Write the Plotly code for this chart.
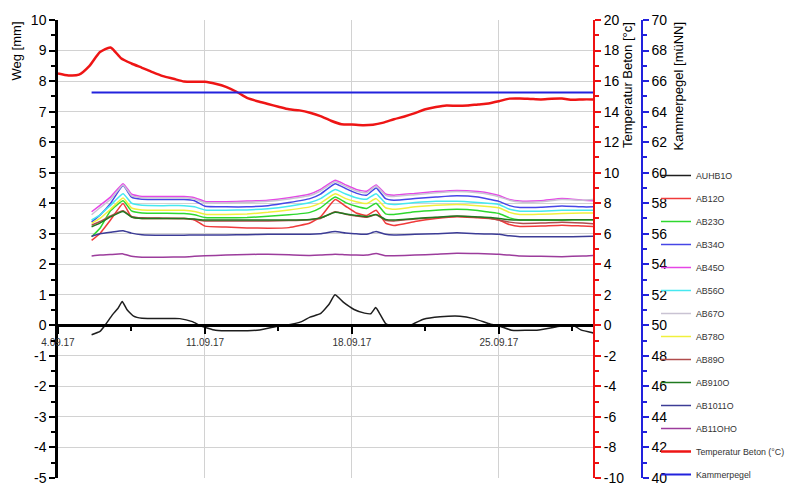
import pandas as pd
import plotly.graph_objects as go

BASE = pd.Timestamp("2017-09-04")

# ---------------- data (day offsets from 04.09.17 00:00) ----------------
sensor_days = [1.6, 2.0, 2.5, 3.1, 3.5, 4.0, 5.0, 6.0, 6.5, 7.0, 8.0, 9.0, 10.0, 11.0, 12.0,
               12.5, 13.2, 13.7, 14.2, 14.7, 15.15, 15.6, 16.0, 17.0, 18.0, 19.0, 20.0, 20.6,
               21.0, 21.5, 22.0, 23.0, 24.0, 25.0, 25.5]

ab12o = [2.78, 3.01, 3.45, 3.99, 3.55, 3.5, 3.5, 3.5, 3.45, 3.25, 3.22, 3.19, 3.18, 3.2, 3.35,
         3.55, 4.12, 3.9, 3.68, 3.6, 3.77, 3.35, 3.27, 3.4, 3.5, 3.56, 3.52, 3.5,
         3.45, 3.3, 3.24, 3.25, 3.28, 3.25, 3.24]
ab23o = [2.9, 3.18, 3.75, 4.08, 3.75, 3.68, 3.67, 3.66, 3.62, 3.53, 3.52, 3.53, 3.57, 3.62, 3.7,
         3.85, 4.2, 4.02, 3.9, 3.83, 4.0, 3.65, 3.63, 3.72, 3.77, 3.8, 3.76, 3.7,
         3.66, 3.52, 3.45, 3.45, 3.45, 3.46, 3.46]
ab34o = [3.39, 3.61, 3.99, 4.58, 4.2, 4.13, 4.12, 4.12, 4.08, 3.9, 3.88, 3.88, 3.92, 4.02, 4.15,
         4.3, 4.64, 4.48, 4.33, 4.26, 4.5, 4.15, 4.1, 4.15, 4.2, 4.24, 4.2, 4.12,
         4.06, 3.92, 3.86, 3.87, 3.91, 3.88, 3.88]
ab45o = [3.72, 3.93, 4.2, 4.64, 4.3, 4.22, 4.22, 4.22, 4.18, 4.06, 4.05, 4.07, 4.1, 4.18, 4.3,
         4.45, 4.75, 4.6, 4.45, 4.39, 4.6, 4.3, 4.26, 4.32, 4.38, 4.42, 4.38, 4.32,
         4.25, 4.12, 4.07, 4.08, 4.15, 4.1, 4.08]
ab56o = [3.45, 3.62, 3.93, 4.31, 4.0, 3.93, 3.92, 3.92, 3.88, 3.78, 3.77, 3.78, 3.82, 3.9, 4.02,
         4.15, 4.45, 4.3, 4.18, 4.13, 4.31, 4.0, 3.96, 4.02, 4.06, 4.06, 4.02, 3.99,
         3.96, 3.8, 3.74, 3.74, 3.77, 3.77, 3.77]
ab67o = [3.62, 3.85, 4.12, 4.6, 4.25, 4.18, 4.18, 4.18, 4.14, 4.02, 4.01, 4.03, 4.06, 4.14, 4.25,
         4.4, 4.7, 4.55, 4.4, 4.34, 4.56, 4.26, 4.22, 4.28, 4.34, 4.38, 4.34, 4.28,
         4.21, 4.1, 4.04, 4.05, 4.12, 4.1, 4.12]
ab78o = [3.34, 3.5, 3.8, 4.17, 3.85, 3.78, 3.77, 3.77, 3.73, 3.64, 3.63, 3.65, 3.7, 3.78, 3.88,
         4.0, 4.31, 4.15, 4.05, 3.99, 4.15, 3.85, 3.8, 3.88, 3.93, 3.96, 3.92, 3.88,
         3.85, 3.7, 3.63, 3.64, 3.66, 3.68, 3.68]
ab89o = [3.28, 3.4, 3.58, 3.75, 3.57, 3.52, 3.51, 3.5, 3.47, 3.42, 3.42, 3.42, 3.42, 3.43, 3.46,
         3.5, 3.72, 3.64, 3.58, 3.54, 3.62, 3.44, 3.42, 3.48, 3.53, 3.57, 3.54, 3.5,
         3.45, 3.38, 3.34, 3.35, 3.38, 3.35, 3.33]
ab910o = [3.23, 3.35, 3.55, 3.73, 3.55, 3.5, 3.5, 3.5, 3.48, 3.45, 3.45, 3.45, 3.45, 3.45, 3.47,
          3.52, 3.7, 3.65, 3.6, 3.56, 3.63, 3.47, 3.45, 3.5, 3.54, 3.58, 3.55, 3.53,
          3.5, 3.46, 3.45, 3.45, 3.45, 3.46, 3.46]
ab1011o = [2.92, 3.0, 3.05, 3.1, 3.02, 2.97, 2.95, 2.95, 2.96, 2.96, 2.96, 2.97, 2.98, 2.98, 2.98,
           3.0, 3.07, 3.02, 3.0, 2.98, 3.07, 2.98, 2.96, 2.98, 3.0, 3.03, 3.0, 2.99,
           2.98, 2.93, 2.9, 2.9, 2.9, 2.91, 2.92]
ab11oho = [2.27, 2.3, 2.32, 2.34, 2.26, 2.23, 2.23, 2.24, 2.26, 2.28, 2.3, 2.32, 2.33, 2.31, 2.29,
           2.3, 2.33, 2.31, 2.3, 2.3, 2.35, 2.28, 2.28, 2.3, 2.33, 2.36, 2.35, 2.34,
           2.33, 2.3, 2.27, 2.26, 2.25, 2.27, 2.29]

auhb_days = [1.6, 2.0, 2.24, 2.6, 2.85, 3.06, 3.3, 3.6, 4.0, 5.0, 5.8, 6.4, 6.8, 7.5, 8.5, 9.6,
             10.5, 11.0, 11.6, 12.0, 12.5, 12.9, 13.19, 13.6, 14.1, 14.6, 14.9, 15.13, 15.35,
             15.6, 15.85, 16.76, 17.4, 18.2, 19.14, 19.8, 20.6, 21.05, 21.6, 22.9, 23.9, 24.5,
             24.9, 25.5]
auhb1o = [-0.31, -0.2, 0.0, 0.35, 0.55, 0.78, 0.5, 0.3, 0.23, 0.22, 0.22, 0.12, -0.02, -0.16,
          -0.18, -0.15, -0.02, 0.02, 0.12, 0.27, 0.38, 0.68, 1.0, 0.75, 0.52, 0.4, 0.38, 0.58,
          0.35, 0.06, 0.0, 0.0, 0.2, 0.28, 0.3, 0.22, 0.04, -0.03, -0.16, -0.15, -0.03, 0.02,
          -0.15, -0.25]

temp_days = [0, 0.5, 1.0, 1.5, 2.0, 2.5, 3.0, 3.5, 4.0, 4.5, 5.0, 5.5, 6.0, 6.5, 7.0, 7.5, 8.0,
             8.5, 9.0, 9.5, 10.0, 10.5, 11.0, 11.5, 12.0, 12.5, 13.0, 13.5, 14.0, 14.5, 15.0,
             15.5, 16.0, 16.5, 17.0, 17.5, 18.0, 18.5, 19.0, 19.5, 20.0, 20.5, 21.0, 21.5,
             22.0, 22.5, 23.0, 23.5, 24.0, 24.5, 25.0, 25.5]
temp_beton = [16.5, 16.37, 16.42, 17.0, 17.9, 18.2, 17.5, 17.15, 16.87, 16.58, 16.32, 16.15,
              15.97, 15.95, 15.95, 15.82, 15.62, 15.3, 14.9, 14.68, 14.5, 14.32, 14.15, 14.08,
              13.93, 13.7, 13.4, 13.17, 13.15, 13.11, 13.14, 13.28, 13.5, 13.68, 13.9, 14.15,
              14.3, 14.4, 14.38, 14.4, 14.47, 14.53, 14.68, 14.85, 14.86, 14.83, 14.8, 14.84,
              14.85, 14.78, 14.8, 14.8]

pegel_days = [1.6, 7.0, 13.0, 19.0, 25.5]
kammerpegel = [65.25, 65.25, 65.25, 65.25, 65.25]

# tick values / labels (hyphen minus as in the original)
weg_ticks = list(range(-5, 11))
weg_labels = [str(v) for v in weg_ticks]
temp_ticks = list(range(-10, 21, 2))
temp_labels = [str(v) for v in temp_ticks]
pegel_ticks = list(range(40, 71, 2))
pegel_labels = [str(v) for v in pegel_ticks]

FONT = "Liberation Sans, Arial, sans-serif"


def to_dt(days):
    return [BASE + pd.Timedelta(days=d) for d in days]


sensors = [
    ("AUHB1O", auhb_days, auhb1o, "#1e1e1e"),
    ("AB12O", sensor_days, ab12o, "#f03a3a"),
    ("AB23O", sensor_days, ab23o, "#2ed82e"),
    ("AB34O", sensor_days, ab34o, "#4646e6"),
    ("AB45O", sensor_days, ab45o, "#e646e6"),
    ("AB56O", sensor_days, ab56o, "#46e8f0"),
    ("AB67O", sensor_days, ab67o, "#c9c3d3"),
    ("AB78O", sensor_days, ab78o, "#f0f03c"),
    ("AB89O", sensor_days, ab89o, "#b04c4c"),
    ("AB910O", sensor_days, ab910o, "#1f7a1f"),
    ("AB1011O", sensor_days, ab1011o, "#3c3c96"),
    ("AB11OHO", sensor_days, ab11oho, "#9c3c9c"),
]

fig = go.Figure()
for i, (name, d, v, c) in enumerate(sensors):
    fig.add_trace(go.Scatter(x=to_dt(d), y=v, name=name, mode="lines",
                             line=dict(color=c, width=1.5, shape="spline", smoothing=0.4),
                             legendgroup=f"g{i}", xaxis="x", yaxis="y"))

fig.add_trace(go.Scatter(x=to_dt(temp_days), y=temp_beton, name="Temperatur Beton (°C)",
                         mode="lines", line=dict(color="#ee1515", width=2.5, shape="spline",
                                                 smoothing=0.6),
                         legendgroup="g12", yaxis="y2"))
fig.add_trace(go.Scatter(x=to_dt(pegel_days), y=kammerpegel, name="Kammerpegel",
                         mode="lines", line=dict(color="#2222dd", width=2),
                         legendgroup="g13", yaxis="y3"))

# The page body adds an 8px offset; size the figure so the visible window matches.
OFF = 8
W, H = 793 - OFF, 486 - OFF
ML, MT = 58 - OFF, 20 - OFF
PLOT_R, PLOT_B = 593 - OFF, 478 - OFF
MR, MB = W - PLOT_R - 55, H - PLOT_B
PW = W - ML - MR
XEND = (PLOT_R - ML) / PW
BLUEPOS = (642 - OFF - ML) / PW
X_RANGE = ["2017-09-04 00:00", "2017-09-29 11:30"]
WEEK = 7 * 86400000
HALFWEEK = 3.5 * 86400000
XPOS = 1 / 3  # y = 0 on the left axis (range -5..10)

common_x = dict(type="date", range=X_RANGE, domain=[0, XEND], dtick=WEEK,
                tick0="2017-09-04", zeroline=False)


def yax(rng, tv, tt, dminor, color, **kw):
    return dict(range=rng, tickmode="array", tickvals=tv, ticktext=tt,
                zeroline=False, ticklen=6, tickwidth=1.5, tickcolor=color,
                ticklabeloverflow="allow",
                minor=dict(dtick=dminor, tick0=0, ticklen=4, tickwidth=1.5,
                           tickcolor=color, showgrid=False,
                           ticks=kw.get("ticks", "outside")),
                **kw)


fig.update_layout(
    width=W, height=H,
    margin=dict(l=ML, r=MR, t=MT, b=MB, pad=0, autoexpand=False),
    paper_bgcolor="white", plot_bgcolor="white",
    font=dict(family=FONT, color="black"),
    showlegend=True,
    legend=dict(xref="container", yref="container", x=(656 - OFF) / W, xanchor="left",
                y=1 - (161 - OFF) / H, yanchor="top", maxheight=600,
                font=dict(size=8.8, color="#333333", family=FONT),
                tracegroupgap=4, traceorder="grouped", bgcolor="rgba(0,0,0,0)",
                itemwidth=30),
    xaxis=dict(**common_x, anchor="free", position=XPOS,
               showgrid=True, gridcolor="#d2d2d2", gridwidth=1,
               showline=True, linecolor="black", linewidth=2.5,
               ticks="outside", ticklen=7, tickwidth=1.5, tickcolor="black",
               tickformat="%-d.%m.%y", tickfont=dict(size=10, color="#333333"),
               minor=dict(dtick=HALFWEEK, tick0="2017-09-04", ticks="outside", ticklen=4,
                          tickwidth=1.5, tickcolor="black", showgrid=False)),
    xaxis2=dict(**common_x, overlaying="x", anchor="free", position=XPOS,
                showgrid=False, showline=False, showticklabels=False,
                ticks="inside", ticklen=7, tickwidth=1.5, tickcolor="black",
                minor=dict(dtick=HALFWEEK, tick0="2017-09-04", ticks="inside", ticklen=4,
                           tickwidth=1.5, tickcolor="black", showgrid=False)),
    yaxis=yax([-5, 10], weg_ticks, weg_labels, 0.5, "black", anchor="x", side="left",
              showgrid=True, gridcolor="#d2d2d2", gridwidth=1,
              showline=True, linecolor="black", linewidth=2.5, ticks="outside",
              tickfont=dict(size=14, color="black")),
    yaxis4=yax([-5, 10], weg_ticks, weg_labels, 0.5, "black", overlaying="y", anchor="x",
               side="left", showgrid=False, showline=False, showticklabels=False,
               ticks="inside"),
    yaxis2=yax([-10, 20], temp_ticks, temp_labels, 1, "#ee1111", overlaying="y", anchor="x",
               side="right", showgrid=False, showline=True, linecolor="#ee1111",
               linewidth=2, ticks="outside", tickfont=dict(size=14, color="black")),
    yaxis5=yax([-10, 20], temp_ticks, temp_labels, 1, "#ee1111", overlaying="y", anchor="x",
               side="right", showgrid=False, showline=False, showticklabels=False,
               ticks="inside"),
    yaxis3=yax([40, 70], pegel_ticks, pegel_labels, 1, "#2222dd", overlaying="y",
               anchor="free", position=BLUEPOS, side="right", showgrid=False,
               showline=True, linecolor="#2222dd", linewidth=1.5, ticks="outside",
               tickfont=dict(size=14, color="black")),
    yaxis6=yax([40, 70], pegel_ticks, pegel_labels, 1, "#2222dd", overlaying="y",
               anchor="free", position=BLUEPOS, side="right", showgrid=False,
               showline=False, showticklabels=False, ticks="inside"),
)

titles = [("Weg [mm]", 16), ("Temperatur Beton [°c]", 627), ("Kammerpegel [müNN]", 678)]
for text, px in titles:
    fig.add_annotation(text=text, xref="paper", yref="paper", x=(px - OFF - ML) / PW, y=1.0,
                       xanchor="center", yanchor="top", textangle=-90, showarrow=False,
                       font=dict(size=13, color="black", family=FONT))

fig.write_html("out.html")
